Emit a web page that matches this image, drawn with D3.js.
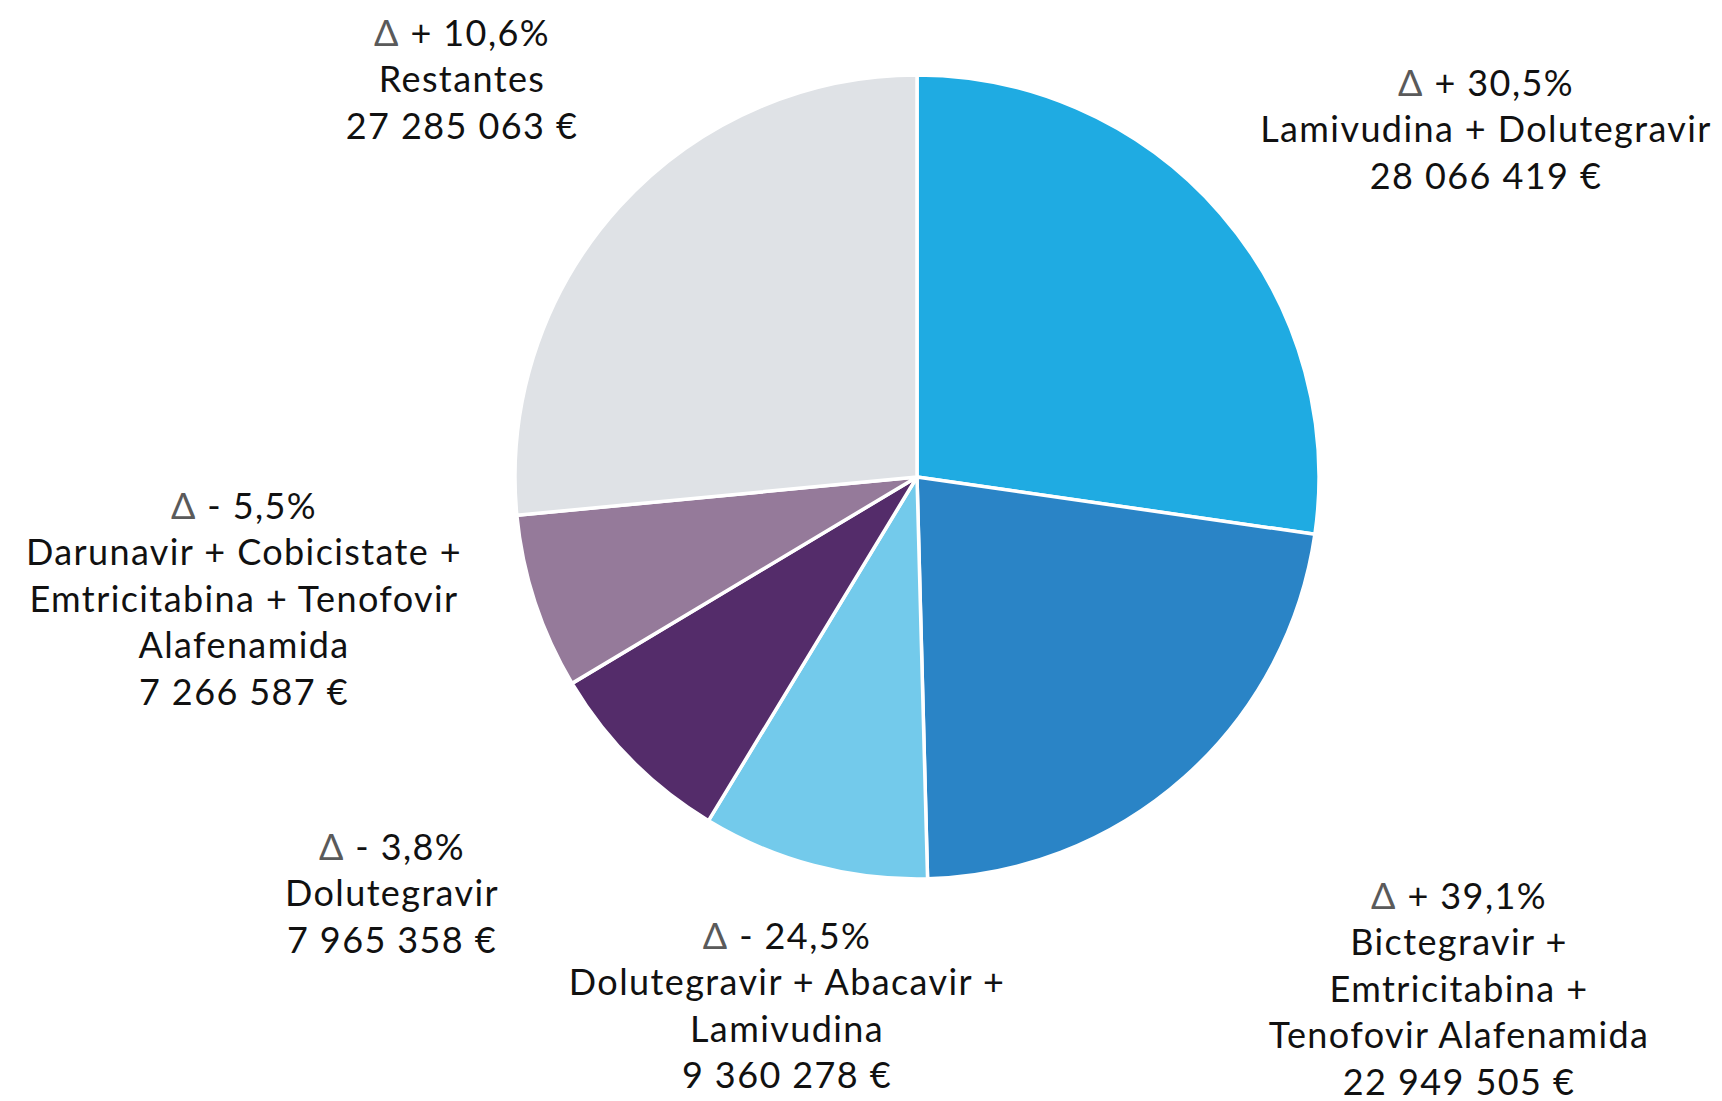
<!DOCTYPE html>
<html>
<head>
<meta charset="utf-8">
<script src="https://cdn.jsdelivr.net/npm/d3@7"></script>
<style>
  html, body { margin: 0; padding: 0; background: #fff; }
  svg { display: block; }
  .lbl { font-family: Lato, "Open Sans", sans-serif; fill: #111; letter-spacing: 1.4px; }
</style>
</head>
<body>
<div id="chart"></div>
<script>
var width = 1722;
var height = 1101;

// data, clockwise from 12 o'clock
var drugs = [
    "Lamivudina + Dolutegravir",
    "Bictegravir + Emtricitabina + Tenofovir Alafenamida",
    "Dolutegravir + Abacavir + Lamivudina",
    "Dolutegravir",
    "Darunavir + Cobicistate + Emtricitabina + Tenofovir Alafenamida",
    "Restantes"
];
var costs = [28066419, 22949505, 9360278, 7965358, 7266587, 27285063];
var deltas = ["+ 30,5%", "+ 39,1%", "- 24,5%", "- 3,8%", "- 5,5%", "+ 10,6%"];

// how each label is wrapped in the original
var labelLines = [
    ["Lamivudina + Dolutegravir"],
    ["Bictegravir +", "Emtricitabina +", "Tenofovir Alafenamida"],
    ["Dolutegravir + Abacavir +", "Lamivudina"],
    ["Dolutegravir"],
    ["Darunavir + Cobicistate +", "Emtricitabina + Tenofovir", "Alafenamida"],
    ["Restantes"]
];

var colors = ["#1fabe2", "#2a84c6", "#73caeb", "#542c6a", "#957a9a", "#dfe2e6"];

// label block placement (first line centre), relative to the pie centre
var labelPos = [
    [569, -394],
    [542, 419],
    [-130, 459],
    [-525, 370],
    [-673, 29],
    [-455, -444]
];

var cx = 917, cy = 477, radius = 402;
var fontSize = 36;
var lineH = 46.5;

var fmt = d3.formatLocale({decimal: ",", thousands: " ", grouping: [3], currency: ["", " €"]}).format("$,.0f");

var svg = d3.select("#chart").append("svg")
    .attr("width", width)
    .attr("height", height);

var pie = d3.pie().sort(null).value(function(d) { return d; });
var arc = d3.arc().innerRadius(0).outerRadius(radius);

var g = svg.append("g").attr("transform", "translate(" + cx + "," + cy + ")");

g.selectAll("path")
    .data(pie(costs))
    .enter().append("path")
    .attr("d", arc)
    .attr("fill", function(d, i) { return colors[i]; })
    .attr("stroke", "#fff")
    .attr("stroke-width", 3.5)
    .attr("stroke-linejoin", "round");

var labels = g.selectAll("text.lbl")
    .data(costs)
    .enter().append("text")
    .attr("class", "lbl")
    .attr("text-anchor", "middle")
    .attr("font-size", fontSize)
    .attr("transform", function(d, i) { return "translate(" + labelPos[i][0] + "," + labelPos[i][1] + ")"; });

labels.each(function(d, i) {
    var t = d3.select(this);
    var lines = ["Δ " + deltas[i]].concat(labelLines[i]).concat([fmt(d)]);
    lines.forEach(function(s, k) {
        var ts = t.append("tspan")
            .attr("x", 0)
            .attr("y", k * lineH + fontSize * 0.36);
        if (k === 0) {
            ts.append("tspan").attr("fill", "#5a5a5a").text("Δ");
            ts.append("tspan").text(" " + deltas[i]);
        } else {
            ts.text(s);
        }
    });
});
</script>
</body>
</html>
